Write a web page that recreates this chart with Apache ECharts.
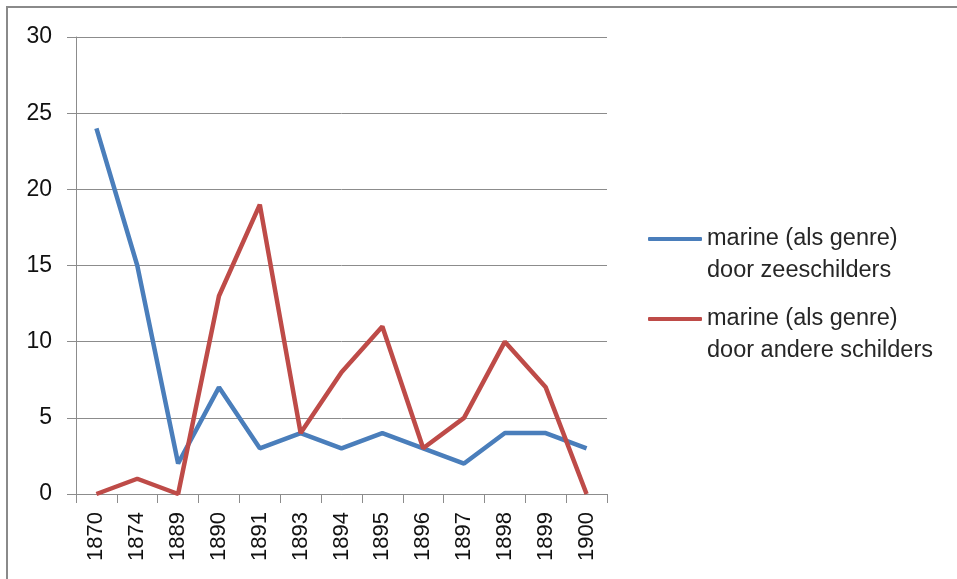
<!DOCTYPE html>
<html><head><meta charset="utf-8">
<script src="https://cdn.jsdelivr.net/npm/echarts@6/dist/echarts.min.js"></script>
<style>html,body{margin:0;padding:0;background:#fff}#c{width:957px;height:579px}</style>
</head><body><div id="c"></div>
<script>
const categories = ['1870','1874','1889','1890','1891','1893','1894','1895','1896','1897','1898','1899','1900'];
const zeeschilders = [24, 15, 2, 7, 3, 4, 3, 4, 3, 2, 4, 4, 3];
const andereSchilders = [0, 1, 0, 13, 19, 4, 8, 11, 3, 5, 10, 7, 0];
const seriesNames = ['marine (als genre)\ndoor zeeschilders', 'marine (als genre)\ndoor andere schilders'];
const yTicks = {min: 0, max: 30, interval: 5};

const FONT = 'Liberation Sans';
const chart = echarts.init(document.getElementById('c'), null, {renderer: 'canvas'});
const legendCommon = {
  orient: 'vertical', left: 648, itemWidth: 54, itemHeight: 4, itemGap: 0, padding: 0,
  icon: 'roundRect',
  formatter: name => '\n' + name,
  textStyle: {fontFamily: FONT, fontSize: 23.5, color: '#262626', lineHeight: 32}
};
chart.setOption({
  animation: false,
  textStyle: {fontFamily: FONT},
  graphic: [{type: 'rect', shape: {x: 7, y: 7, width: 1000, height: 1000}, style: {fill: 'none', stroke: '#8a8a8a', lineWidth: 2}, silent: true}],
  grid: {left: 76, right: 350, top: 37, bottom: 85},
  legend: [
    Object.assign({}, legendCommon, {top: 191, data: [seriesNames[0]]}),
    Object.assign({}, legendCommon, {top: 271, data: [seriesNames[1]]})
  ],
  xAxis: {
    type: 'category', data: categories, boundaryGap: true,
    axisLine: {lineStyle: {color: '#8c8c8c', width: 1}},
    axisTick: {show: true, length: 9, alignWithLabel: false, lineStyle: {color: '#8c8c8c'}},
    axisLabel: {rotate: 90, margin: 18, fontFamily: FONT, fontSize: 22, color: '#111', interval: 0}
  },
  yAxis: {
    type: 'value', min: yTicks.min, max: yTicks.max, interval: yTicks.interval,
    axisLine: {show: true, lineStyle: {color: '#8c8c8c', width: 1}},
    axisTick: {show: true, length: 9, lineStyle: {color: '#8c8c8c'}},
    splitLine: {lineStyle: {color: '#8c8c8c', width: 1}},
    axisLabel: {margin: 24, fontFamily: FONT, fontSize: 23, color: '#111'}
  },
  series: [
    {name: seriesNames[0], type: 'line', data: zeeschilders, showSymbol: false, symbol: 'none',
     lineStyle: {color: '#4a7ebb', width: 4.5}, itemStyle: {color: '#4a7ebb'}},
    {name: seriesNames[1], type: 'line', data: andereSchilders, showSymbol: false, symbol: 'none',
     lineStyle: {color: '#be4b48', width: 4.5}, itemStyle: {color: '#be4b48'}}
  ]
});
</script></body></html>
